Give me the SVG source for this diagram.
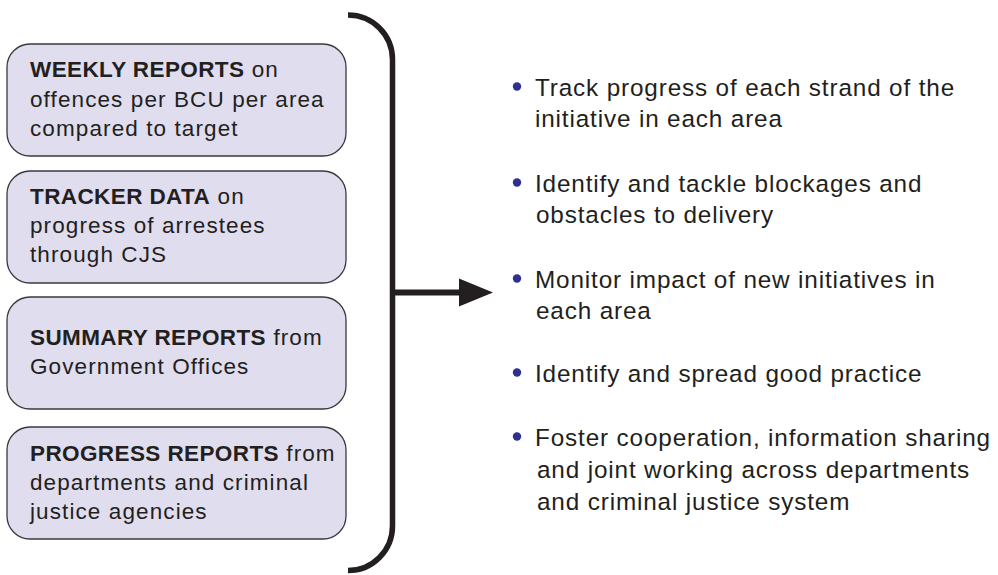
<svg xmlns="http://www.w3.org/2000/svg" width="998" height="575" viewBox="0 0 998 575">
  <style>
    .box { fill: #e0ddef; stroke: #3a3a3a; stroke-width: 1.3; }
    .lt { font-family: "Liberation Sans", Arial, sans-serif; font-size: 22.5px; fill: #231f20; letter-spacing: 1.1px; }
    .lt .b { font-weight: bold; letter-spacing: 0.4px; }
    .rt { font-family: "Liberation Sans", Arial, sans-serif; font-size: 24.3px; fill: #231f20; letter-spacing: 0.85px; }
    .dot { fill: #2e3192; }
    .brace { fill: none; stroke: #231f20; stroke-width: 5.5; stroke-linecap: butt; }
    .shaft { fill: none; stroke: #231f20; stroke-width: 6; }
  </style>
  <defs>
    <marker id="head" markerUnits="userSpaceOnUse" markerWidth="34" markerHeight="28" refX="1" refY="14" orient="auto" overflow="visible">
      <path d="M0,0 L34,14 L0,28 Z" fill="#231f20"/>
    </marker>
  </defs>
  <rect width="998" height="575" fill="#ffffff"/>

  <!-- input sources -->
  <g id="weekly-reports">
    <rect class="box" x="7" y="44" width="339" height="112" rx="23" ry="23"/>
    <text class="lt" x="30" y="77"><tspan class="b">WEEKLY REPORTS</tspan> on</text>
    <text class="lt" x="30" y="107">offences per BCU per area</text>
    <text class="lt" x="30" y="136">compared to target</text>
  </g>
  <g id="tracker-data">
    <rect class="box" x="7" y="171" width="339" height="112" rx="23" ry="23"/>
    <text class="lt" x="30" y="204"><tspan class="b">TRACKER DATA</tspan> on</text>
    <text class="lt" x="30" y="233">progress of arrestees</text>
    <text class="lt" x="30" y="262">through CJS</text>
  </g>
  <g id="summary-reports">
    <rect class="box" x="7" y="297" width="339" height="112" rx="23" ry="23"/>
    <text class="lt" x="30" y="345"><tspan class="b">SUMMARY REPORTS</tspan> from</text>
    <text class="lt" x="30" y="374">Government Offices</text>
  </g>
  <g id="progress-reports">
    <rect class="box" x="7" y="427" width="339" height="112" rx="23" ry="23"/>
    <text class="lt" x="30" y="461"><tspan class="b">PROGRESS REPORTS</tspan> from</text>
    <text class="lt" x="30" y="490">departments and criminal</text>
    <text class="lt" x="30" y="519">justice agencies</text>
  </g>

  <!-- bracket gathering the sources, and the arrow to the outcomes -->
  <g id="connectors">
    <path class="brace" d="M348,15 A44.5,44.5 0 0 1 392.5,59.5 L392.5,526 A44.5,44.5 0 0 1 348,570.5"/>
    <path class="shaft" d="M392.5,292.5 L460,292.5" marker-end="url(#head)"/>
  </g>

  <!-- outcomes -->
  <g id="outcomes">
    <circle class="dot" cx="517" cy="86.5" r="4.2"/>
    <text class="rt" x="535" y="96">Track progress of each strand of the</text>
    <text class="rt" x="535" y="127">initiative in each area</text>

    <circle class="dot" cx="517" cy="182.5" r="4.2"/>
    <text class="rt" x="535" y="192">Identify and tackle blockages and</text>
    <text class="rt" x="536" y="223">obstacles to delivery</text>

    <circle class="dot" cx="517" cy="278.5" r="4.2"/>
    <text class="rt" x="535" y="288">Monitor impact of new initiatives in</text>
    <text class="rt" x="536" y="319">each area</text>

    <circle class="dot" cx="517" cy="372.5" r="4.2"/>
    <text class="rt" x="535" y="382">Identify and spread good practice</text>

    <circle class="dot" cx="517" cy="436.5" r="4.2"/>
    <text class="rt" x="535" y="446">Foster cooperation, information sharing</text>
    <text class="rt" x="537" y="478">and joint working across departments</text>
    <text class="rt" x="537" y="510">and criminal justice system</text>
  </g>
</svg>
